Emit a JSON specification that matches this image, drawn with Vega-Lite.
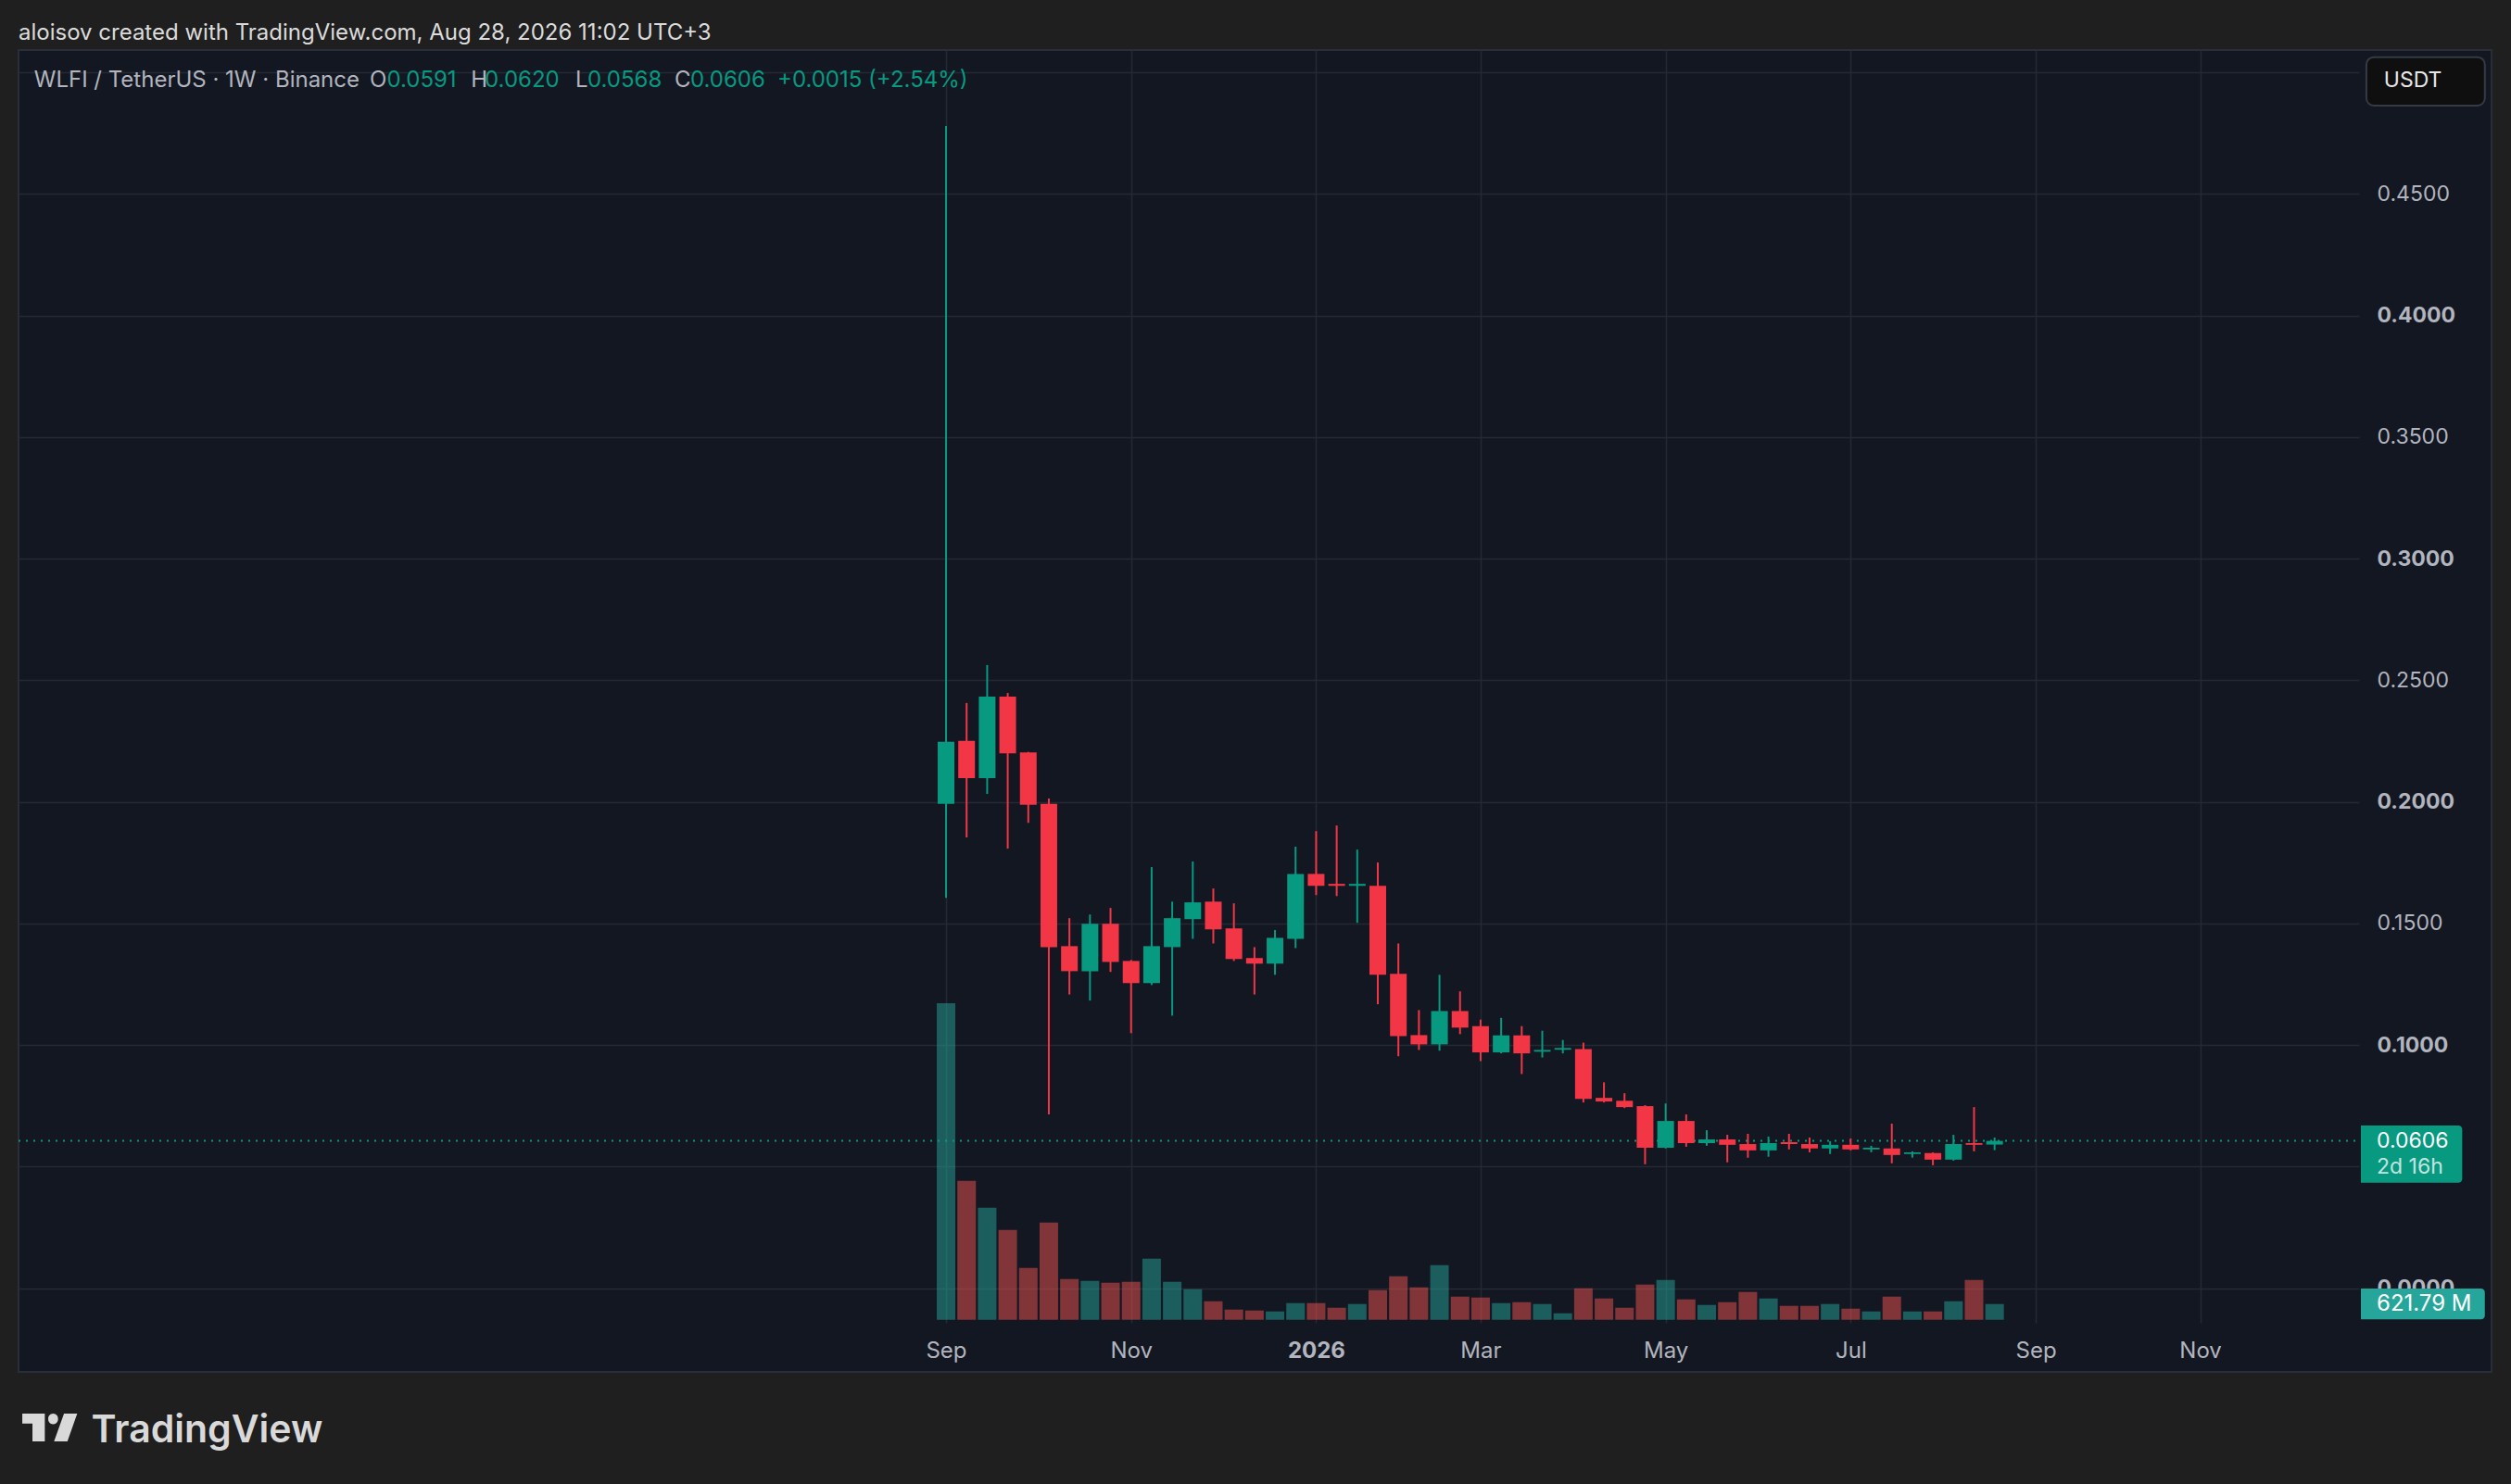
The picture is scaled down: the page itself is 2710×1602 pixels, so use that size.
{
  "$schema": "https://vega.github.io/schema/vega-lite/v6.json",
  "width": 2669,
  "height": 1427,
  "autosize": {"type": "none"},
  "padding": {"left": 20, "top": 54, "right": 21, "bottom": 121},
  "background": "#1f1f1f",
  "title": {
    "text": "aloisov created with TradingView.com, Aug 28, 2026 11:02 UTC+3",
    "anchor": "start",
    "frame": "group",
    "offset": -13,
    "baseline": "alphabetic",
    "font": "Inter",
    "fontSize": 24,
    "fontWeight": "normal",
    "color": "#dbdbdb"
  },
  "config": {
    "font": "Inter",
    "view": {"fill": "#131722", "stroke": "#2a2e39", "strokeWidth": 2},
    "axis": {
      "domain": false,
      "ticks": false,
      "tickSize": 0,
      "gridColor": "#252934",
      "gridWidth": 1.5,
      "labelFont": "Inter",
      "labelColor": "#b2b5be"
    }
  },
  "datasets": {
    "weekly": [
      {"date": "2025-09-01", "open": 0.1992, "high": 0.478, "low": 0.1606, "close": 0.2247, "volume": 12495000000},
      {"date": "2025-09-08", "open": 0.2251, "high": 0.2407, "low": 0.1854, "close": 0.2098, "volume": 5486000000},
      {"date": "2025-09-15", "open": 0.2098, "high": 0.2563, "low": 0.2033, "close": 0.2433, "volume": 4425000000},
      {"date": "2025-09-22", "open": 0.2433, "high": 0.2448, "low": 0.1808, "close": 0.2200, "volume": 3547000000},
      {"date": "2025-09-29", "open": 0.2204, "high": 0.2206, "low": 0.1914, "close": 0.1988, "volume": 2048000000},
      {"date": "2025-10-06", "open": 0.1992, "high": 0.2014, "low": 0.0715, "close": 0.1403, "volume": 3840000000},
      {"date": "2025-10-13", "open": 0.1407, "high": 0.1522, "low": 0.1208, "close": 0.1304, "volume": 1609000000},
      {"date": "2025-10-20", "open": 0.1304, "high": 0.1537, "low": 0.1183, "close": 0.1499, "volume": 1536000000},
      {"date": "2025-10-27", "open": 0.1499, "high": 0.1564, "low": 0.1301, "close": 0.1342, "volume": 1463000000},
      {"date": "2025-11-03", "open": 0.1346, "high": 0.1350, "low": 0.1049, "close": 0.1255, "volume": 1499000000},
      {"date": "2025-11-10", "open": 0.1255, "high": 0.1732, "low": 0.1247, "close": 0.1407, "volume": 2414000000},
      {"date": "2025-11-17", "open": 0.1403, "high": 0.1590, "low": 0.1121, "close": 0.1522, "volume": 1499000000},
      {"date": "2025-11-24", "open": 0.1518, "high": 0.1755, "low": 0.1437, "close": 0.1587, "volume": 1207000000},
      {"date": "2025-12-01", "open": 0.1590, "high": 0.1644, "low": 0.1418, "close": 0.1476, "volume": 731000000},
      {"date": "2025-12-08", "open": 0.1480, "high": 0.1583, "low": 0.1346, "close": 0.1354, "volume": 402000000},
      {"date": "2025-12-15", "open": 0.1358, "high": 0.1403, "low": 0.1208, "close": 0.1335, "volume": 366000000},
      {"date": "2025-12-22", "open": 0.1335, "high": 0.1473, "low": 0.1289, "close": 0.1441, "volume": 329000000},
      {"date": "2025-12-29", "open": 0.1437, "high": 0.1816, "low": 0.1399, "close": 0.1704, "volume": 658000000},
      {"date": "2026-01-05", "open": 0.1704, "high": 0.1880, "low": 0.1617, "close": 0.1655, "volume": 658000000},
      {"date": "2026-01-12", "open": 0.1663, "high": 0.1903, "low": 0.1613, "close": 0.1655, "volume": 475000000},
      {"date": "2026-01-19", "open": 0.1655, "high": 0.1804, "low": 0.1503, "close": 0.1663, "volume": 622000000},
      {"date": "2026-01-26", "open": 0.1655, "high": 0.1751, "low": 0.1168, "close": 0.1289, "volume": 1170000000},
      {"date": "2026-02-02", "open": 0.1293, "high": 0.1418, "low": 0.0954, "close": 0.1037, "volume": 1719000000},
      {"date": "2026-02-09", "open": 0.1041, "high": 0.1144, "low": 0.0980, "close": 0.1003, "volume": 1280000000},
      {"date": "2026-02-16", "open": 0.1003, "high": 0.1289, "low": 0.0977, "close": 0.1140, "volume": 2158000000},
      {"date": "2026-02-23", "open": 0.1140, "high": 0.1221, "low": 0.1045, "close": 0.1072, "volume": 914000000},
      {"date": "2026-03-02", "open": 0.1078, "high": 0.1105, "low": 0.0934, "close": 0.0970, "volume": 878000000},
      {"date": "2026-03-09", "open": 0.0970, "high": 0.1112, "low": 0.0966, "close": 0.1040, "volume": 658000000},
      {"date": "2026-03-16", "open": 0.1040, "high": 0.1078, "low": 0.0881, "close": 0.0966, "volume": 695000000},
      {"date": "2026-03-23", "open": 0.0973, "high": 0.1059, "low": 0.0949, "close": 0.0980, "volume": 622000000},
      {"date": "2026-03-30", "open": 0.0981, "high": 0.1021, "low": 0.0966, "close": 0.0988, "volume": 256000000},
      {"date": "2026-04-06", "open": 0.0984, "high": 0.1010, "low": 0.0764, "close": 0.0779, "volume": 1243000000},
      {"date": "2026-04-13", "open": 0.0783, "high": 0.0847, "low": 0.0764, "close": 0.0768, "volume": 841000000},
      {"date": "2026-04-20", "open": 0.0771, "high": 0.0802, "low": 0.0741, "close": 0.0745, "volume": 475000000},
      {"date": "2026-04-27", "open": 0.0749, "high": 0.0753, "low": 0.0510, "close": 0.0578, "volume": 1390000000},
      {"date": "2026-05-04", "open": 0.0578, "high": 0.0760, "low": 0.0575, "close": 0.0688, "volume": 1573000000},
      {"date": "2026-05-11", "open": 0.0688, "high": 0.0715, "low": 0.0582, "close": 0.0597, "volume": 805000000},
      {"date": "2026-05-18", "open": 0.0597, "high": 0.0650, "low": 0.0586, "close": 0.0612, "volume": 585000000},
      {"date": "2026-05-25", "open": 0.0612, "high": 0.0631, "low": 0.0518, "close": 0.0590, "volume": 695000000},
      {"date": "2026-06-01", "open": 0.0593, "high": 0.0635, "low": 0.0537, "close": 0.0567, "volume": 1097000000},
      {"date": "2026-06-08", "open": 0.0567, "high": 0.0624, "low": 0.0541, "close": 0.0597, "volume": 841000000},
      {"date": "2026-06-15", "open": 0.0601, "high": 0.0635, "low": 0.0571, "close": 0.0593, "volume": 549000000},
      {"date": "2026-06-22", "open": 0.0593, "high": 0.0620, "low": 0.0559, "close": 0.0575, "volume": 549000000},
      {"date": "2026-06-29", "open": 0.0575, "high": 0.0605, "low": 0.0552, "close": 0.0590, "volume": 622000000},
      {"date": "2026-07-06", "open": 0.0590, "high": 0.0616, "low": 0.0567, "close": 0.0571, "volume": 439000000},
      {"date": "2026-07-13", "open": 0.0571, "high": 0.0586, "low": 0.0559, "close": 0.0578, "volume": 329000000},
      {"date": "2026-07-20", "open": 0.0575, "high": 0.0677, "low": 0.0514, "close": 0.0548, "volume": 914000000},
      {"date": "2026-07-27", "open": 0.0552, "high": 0.0563, "low": 0.0537, "close": 0.0559, "volume": 329000000},
      {"date": "2026-08-03", "open": 0.0556, "high": 0.0559, "low": 0.0506, "close": 0.0529, "volume": 329000000},
      {"date": "2026-08-10", "open": 0.0529, "high": 0.0631, "low": 0.0525, "close": 0.0593, "volume": 731000000},
      {"date": "2026-08-17", "open": 0.0597, "high": 0.0745, "low": 0.0563, "close": 0.0590, "volume": 1573000000},
      {"date": "2026-08-24", "open": 0.0591, "high": 0.0620, "low": 0.0568, "close": 0.0606, "volume": 621790000}
    ]
  },
  "resolve": {"scale": {"y": "independent"}},
  "layer": [
    {
      "layer": [
        {
          "data": {"name": "weekly"},
          "mark": {"type": "bar", "size": 20, "opacity": 0.5},
          "encoding": {
            "x": {"field": "date", "type": "temporal"},
            "y": {
              "field": "volume",
              "type": "quantitative",
              "title": null,
              "scale": {"domain": [-120700000, 50140000000], "range": [1374, 0], "nice": false, "zero": false},
              "axis": null
            },
            "y2": {"datum": 0},
            "color": {
              "condition": {"test": "datum.close >= datum.open", "value": "#26a69a"},
              "value": "#ef5350"
            }
          }
        },
        {
          "data": {"values": [{}]},
          "mark": {"type": "rect", "fill": "#26a69a", "cornerRadiusTopRight": 4, "cornerRadiusBottomRight": 4},
          "encoding": {
            "x": {"datum": {"year": 2026, "month": 12, "date": 26, "hours": 17, "utc": true}, "type": "temporal"},
            "x2": {"datum": {"year": 2027, "month": 2, "date": 6, "hours": 22, "utc": true}},
            "y": {"datum": 1232800000, "type": "quantitative", "title": null},
            "y2": {"datum": 14600000}
          }
        },
        {
          "data": {"values": [{}]},
          "mark": {"type": "text", "text": "621.79 M", "align": "left", "baseline": "middle", "fontSize": 24, "color": "#ffffff"},
          "encoding": {
            "x": {"datum": {"year": 2027, "month": 1, "date": 1, "hours": 2, "utc": true}, "type": "temporal"},
            "y": {"datum": 622000000, "type": "quantitative", "title": null}
          }
        }
      ]
    },
    {
      "layer": [
        {
          "data": {"values": [{}]},
          "mark": {"type": "rule", "color": "#089981", "strokeWidth": 2, "strokeDash": [2, 6]},
          "encoding": {
            "x": {"datum": {"year": 2024, "month": 10, "date": 20, "hours": 5, "utc": true}, "type": "temporal"},
            "x2": {"datum": {"year": 2026, "month": 12, "date": 26, "hours": 2, "utc": true}},
            "y": {"datum": 0.0606, "type": "quantitative", "title": null}
          }
        },
        {
          "data": {"name": "weekly"},
          "mark": {"type": "rule", "strokeWidth": 2},
          "encoding": {
            "x": {
              "field": "date",
              "type": "temporal",
              "title": "TradingView",
              "scale": {
                "type": "utc",
                "domain": [
                  {"year": 2024, "month": 10, "date": 20, "hours": 5, "utc": true},
                  {"year": 2026, "month": 12, "date": 26, "hours": 2, "utc": true}
                ],
                "range": [0, 2526],
                "nice": false,
                "padding": 0
              },
              "axis": {
                "orient": "top",
                "offset": -1374,
                "grid": true,
                "values": [
                  {"year": 2025, "month": 9, "date": 1, "utc": true},
                  {"year": 2025, "month": 11, "date": 3, "utc": true},
                  {"year": 2026, "month": 1, "date": 5, "utc": true},
                  {"year": 2026, "month": 3, "date": 2, "utc": true},
                  {"year": 2026, "month": 5, "date": 4, "utc": true},
                  {"year": 2026, "month": 7, "date": 6, "utc": true},
                  {"year": 2026, "month": 9, "date": 7, "utc": true},
                  {"year": 2026, "month": 11, "date": 2, "utc": true}
                ],
                "labelExpr": "utcFormat(datum.value, utcmonth(datum.value) == 0 ? '%Y' : '%b')",
                "labelFontWeight": {"condition": {"test": "utcmonth(datum.value) == 0", "value": "bold"}, "value": "normal"},
                "labelFontSize": 24,
                "labelPadding": -37,
                "labelBaseline": "alphabetic",
                "labelFlush": false,
                "labelOverlap": false,
                "titleX": 78,
                "titleY": 128,
                "titleAlign": "left",
                "titleBaseline": "alphabetic",
                "titleFont": "Inter",
                "titleFontSize": 41,
                "titleFontWeight": 600,
                "titleColor": "#d9d9d9"
              }
            },
            "y": {
              "field": "low",
              "type": "quantitative",
              "title": null,
              "scale": {"domain": [-0.01421, 0.50922], "range": [1374, 0], "nice": false, "zero": false},
              "axis": {
                "orient": "left",
                "offset": -2526,
                "title": null,
                "grid": true,
                "values": [0, 0.05, 0.1, 0.15, 0.2, 0.25, 0.3, 0.35, 0.4, 0.45, 0.5],
                "labelExpr": "datum.value > 0.49 ? '' : format(datum.value, '.4f')",
                "labelFontSize": 23,
                "labelPadding": -19,
                "labelAlign": "left",
                "labelBaseline": "middle",
                "labelFlush": false,
                "labelOverlap": false,
                "labelFontWeight": {"condition": {"test": "abs(datum.value * 10 - round(datum.value * 10)) < 0.001", "value": "bold"}, "value": "normal"}
              }
            },
            "y2": {"field": "high"},
            "color": {
              "condition": {"test": "datum.close >= datum.open", "value": "#089981"},
              "value": "#f23645"
            }
          }
        },
        {
          "data": {"name": "weekly"},
          "mark": {"type": "bar", "size": 18},
          "encoding": {
            "x": {"field": "date", "type": "temporal"},
            "y": {"field": "open", "type": "quantitative", "title": null},
            "y2": {"field": "close"},
            "color": {
              "condition": {"test": "datum.close >= datum.open", "value": "#089981"},
              "value": "#f23645"
            }
          }
        },
        {
          "data": {"values": [{}]},
          "layer": [
            {
              "mark": {"type": "rect", "fill": "#089981", "cornerRadiusTopRight": 4, "cornerRadiusBottomRight": 4},
              "encoding": {
                "x": {"datum": {"year": 2026, "month": 12, "date": 26, "hours": 17, "utc": true}, "type": "temporal"},
                "x2": {"datum": {"year": 2027, "month": 1, "date": 30, "hours": 5, "utc": true}},
                "y": {"datum": 0.06693, "type": "quantitative", "title": null},
                "y2": {"datum": 0.04343}
              }
            },
            {
              "mark": {"type": "text", "text": "0.0606", "align": "left", "baseline": "middle", "fontSize": 23, "color": "#ffffff"},
              "encoding": {
                "x": {"datum": {"year": 2027, "month": 1, "date": 1, "hours": 2, "utc": true}, "type": "temporal"},
                "y": {"datum": 0.0606, "type": "quantitative", "title": null}
              }
            },
            {
              "mark": {"type": "text", "text": "2d 16h", "align": "left", "baseline": "middle", "fontSize": 23, "color": "#ffffff", "opacity": 0.75},
              "encoding": {
                "x": {"datum": {"year": 2027, "month": 1, "date": 1, "hours": 2, "utc": true}, "type": "temporal"},
                "y": {"datum": 0.04979, "type": "quantitative", "title": null}
              }
            },
            {
              "mark": {"type": "rect", "fill": "#0f0f0f", "stroke": "#363a45", "strokeWidth": 2, "cornerRadius": 8},
              "encoding": {
                "x": {"datum": {"year": 2026, "month": 12, "date": 28, "hours": 14, "utc": true}, "type": "temporal"},
                "x2": {"datum": {"year": 2027, "month": 2, "date": 6, "hours": 22, "utc": true}},
                "y": {"datum": 0.50629, "type": "quantitative", "title": null},
                "y2": {"datum": 0.48636}
              }
            },
            {
              "mark": {"type": "text", "text": "USDT", "align": "center", "baseline": "middle", "fontSize": 23, "color": "#e6e6e6"},
              "encoding": {
                "x": {"datum": {"year": 2027, "month": 1, "date": 13, "hours": 10, "utc": true}, "type": "temporal"},
                "y": {"datum": 0.49653, "type": "quantitative", "title": null}
              }
            },
            {
              "mark": {
                "type": "point",
                "shape": "M-0.983,-0.5L-0.173,-0.5L-0.173,0.5L-0.617,0.5L-0.617,-0.143L-0.983,-0.143Z M0.303,-0.31A0.177,0.177 0 1 1 -0.05,-0.31A0.177,0.177 0 1 1 0.303,-0.31Z M0.517,-0.5L0.993,-0.5L0.64,0.5L0.16,0.5Z",
                "filled": true,
                "size": 3600,
                "color": "#d9d9d9",
                "opacity": 1
              },
              "encoding": {
                "x": {"datum": {"year": 2024, "month": 10, "date": 30, "hours": 19, "utc": true}, "type": "temporal"},
                "y": {"datum": -0.05726, "type": "quantitative", "title": null}
              }
            },
            {
              "mark": {"type": "text", "text": "WLFI / TetherUS · 1W · Binance", "align": "left", "baseline": "alphabetic", "fontSize": 24, "color": "#b2b5be"},
              "encoding": {
                "x": {"datum": {"year": 2024, "month": 10, "date": 25, "hours": 12, "utc": true}, "type": "temporal"},
                "y": {"datum": 0.49387, "type": "quantitative", "title": null}
              }
            },
            {
              "mark": {"type": "text", "text": "O", "align": "left", "baseline": "alphabetic", "fontSize": 24, "color": "#b2b5be"},
              "encoding": {
                "x": {"datum": {"year": 2025, "month": 2, "date": 16, "hours": 19, "utc": true}, "type": "temporal"},
                "y": {"datum": 0.49387, "type": "quantitative", "title": null}
              }
            },
            {
              "mark": {"type": "text", "text": "0.0591", "align": "left", "baseline": "alphabetic", "fontSize": 24, "color": "#089981"},
              "encoding": {
                "x": {"datum": {"year": 2025, "month": 2, "date": 22, "hours": 14, "utc": true}, "type": "temporal"},
                "y": {"datum": 0.49387, "type": "quantitative", "title": null}
              }
            },
            {
              "mark": {"type": "text", "text": "H", "align": "left", "baseline": "alphabetic", "fontSize": 24, "color": "#b2b5be"},
              "encoding": {
                "x": {"datum": {"year": 2025, "month": 3, "date": 23, "hours": 5, "utc": true}, "type": "temporal"},
                "y": {"datum": 0.49387, "type": "quantitative", "title": null}
              }
            },
            {
              "mark": {"type": "text", "text": "0.0620", "align": "left", "baseline": "alphabetic", "fontSize": 24, "color": "#089981"},
              "encoding": {
                "x": {"datum": {"year": 2025, "month": 3, "date": 27, "hours": 22, "utc": true}, "type": "temporal"},
                "y": {"datum": 0.49387, "type": "quantitative", "title": null}
              }
            },
            {
              "mark": {"type": "text", "text": "L", "align": "left", "baseline": "alphabetic", "fontSize": 24, "color": "#b2b5be"},
              "encoding": {
                "x": {"datum": {"year": 2025, "month": 4, "date": 27, "hours": 19, "utc": true}, "type": "temporal"},
                "y": {"datum": 0.49387, "type": "quantitative", "title": null}
              }
            },
            {
              "mark": {"type": "text", "text": "0.0568", "align": "left", "baseline": "alphabetic", "fontSize": 24, "color": "#089981"},
              "encoding": {
                "x": {"datum": {"year": 2025, "month": 5, "date": 1, "hours": 22, "utc": true}, "type": "temporal"},
                "y": {"datum": 0.49387, "type": "quantitative", "title": null}
              }
            },
            {
              "mark": {"type": "text", "text": "C", "align": "left", "baseline": "alphabetic", "fontSize": 24, "color": "#b2b5be"},
              "encoding": {
                "x": {"datum": {"year": 2025, "month": 5, "date": 31, "hours": 14, "utc": true}, "type": "temporal"},
                "y": {"datum": 0.49387, "type": "quantitative", "title": null}
              }
            },
            {
              "mark": {"type": "text", "text": "0.0606", "align": "left", "baseline": "alphabetic", "fontSize": 24, "color": "#089981"},
              "encoding": {
                "x": {"datum": {"year": 2025, "month": 6, "date": 5, "hours": 22, "utc": true}, "type": "temporal"},
                "y": {"datum": 0.49387, "type": "quantitative", "title": null}
              }
            },
            {
              "mark": {"type": "text", "text": "+0.0015 (+2.54%)", "align": "left", "baseline": "alphabetic", "fontSize": 24, "color": "#089981"},
              "encoding": {
                "x": {"datum": {"year": 2025, "month": 7, "date": 5, "hours": 14, "utc": true}, "type": "temporal"},
                "y": {"datum": 0.49387, "type": "quantitative", "title": null}
              }
            }
          ]
        }
      ]
    }
  ]
}
